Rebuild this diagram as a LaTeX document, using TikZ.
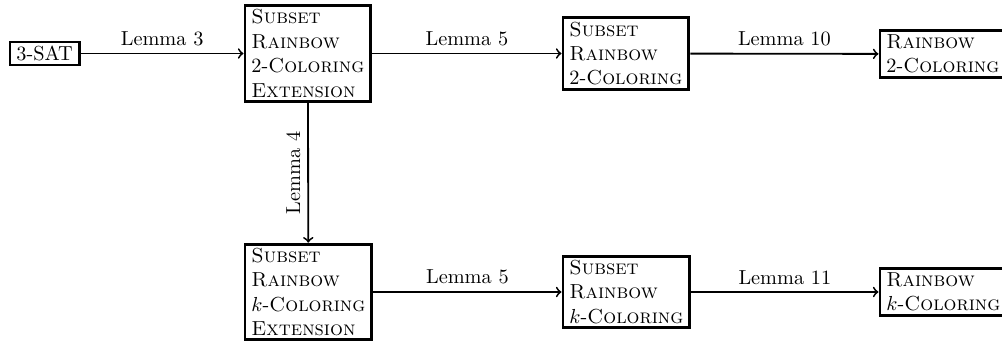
\documentclass[tikz,border=0pt]{standalone}
\begin{document}
\begin{tikzpicture}[x=0.4926pt,y=-0.4926pt,
  box/.style={draw, line width=1.4pt, align=left, inner xsep=3.2pt, inner ysep=2pt},
  arr/.style={->, line width=0.9pt}]
\useasboundingbox (0,0) rectangle (1002,346);
\node[box, anchor=west] (sat) at (8.5,53.5) {3-SAT};
\node[box, anchor=west] (a) at (243.5,53.5) {\textsc{Subset}\\\textsc{Rainbow}\\2-\textsc{Coloring}\\\textsc{Extension}};
\node[box, anchor=west] (b) at (561.5,53.5) {\textsc{Subset}\\\textsc{Rainbow}\\2-\textsc{Coloring}};
\node[box, anchor=west] (c) at (878.5,54) {\textsc{Rainbow}\\2-\textsc{Coloring}};
\node[box, anchor=west] (d) at (243.5,292) {\textsc{Subset}\\\textsc{Rainbow}\\$k$-\textsc{Coloring}\\\textsc{Extension}};
\node[box, anchor=west] (e) at (561.5,292) {\textsc{Subset}\\\textsc{Rainbow}\\$k$-\textsc{Coloring}};
\node[box, anchor=west] (f) at (878.5,292) {\textsc{Rainbow}\\$k$-\textsc{Coloring}};
\draw[arr] (sat) -- node[above] {Lemma 3} (a);
\draw[arr] (a) -- node[above] {Lemma 5} (b);
\draw[arr] (b) -- node[above] {Lemma 10} (c);
\draw[arr] (a) -- node[midway, anchor=south, rotate=90] {Lemma 4} (d);
\draw[arr] (d) -- node[above] {Lemma 5} (e);
\draw[arr] (e) -- node[above] {Lemma 11} (f);
\end{tikzpicture}
\end{document}
